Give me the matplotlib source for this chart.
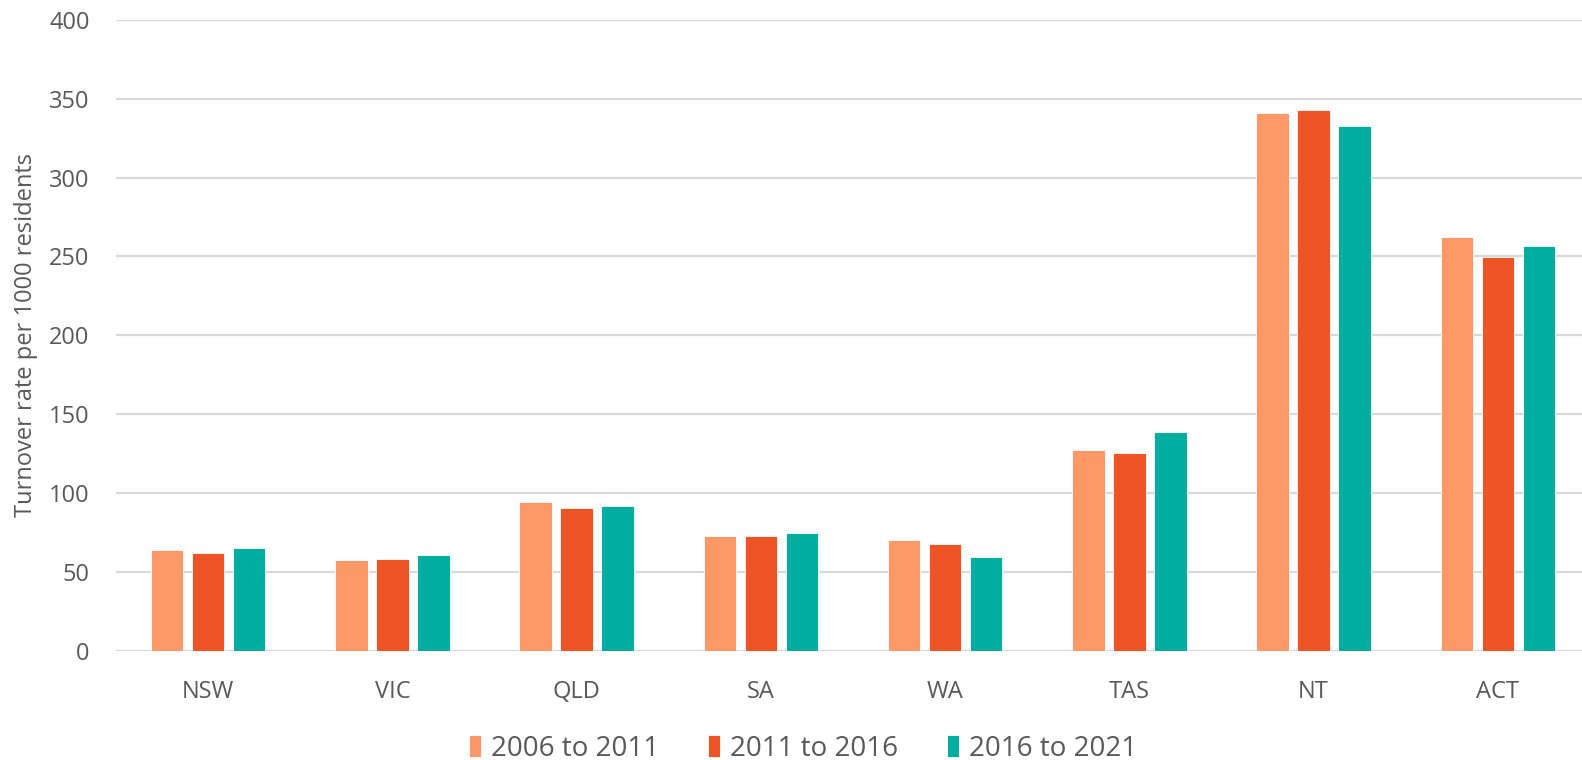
import numpy as np
import matplotlib.pyplot as plt

# turnover rate per 1000 residents, by state and census period
states = ['NSW', 'VIC', 'QLD', 'SA', 'WA', 'TAS', 'NT', 'ACT']
periods = ['2006 to 2011', '2011 to 2016', '2016 to 2021']
rate_2006_2011 = [63.8, 57.2, 94.2, 72.8, 70.0, 127.2, 340.9, 262.3]
rate_2011_2016 = [61.7, 57.9, 90.6, 72.6, 67.4, 125.1, 342.8, 249.4]
rate_2016_2021 = [65.1, 60.4, 91.5, 74.5, 59.6, 138.5, 333.0, 256.6]
colors = ['#FE9866', '#EF5427', '#00AD9E']

text_col = '#595959'
plt.rcParams['font.family'] = ['Open Sans', 'DejaVu Sans']

W, H = 1582, 760
fig = plt.figure(figsize=(W / 100, H / 100), dpi=100)
# the plot area runs a little past the right edge of the figure
left, right, top, bottom = 116, 1590, 20, 650.5
ax = fig.add_axes([left / W, 1 - bottom / H, (right - left) / W, (bottom - top) / H])

x = np.arange(len(states))
series = [rate_2006_2011, rate_2011_2016, rate_2016_2021]
for i, (vals, col, lab) in enumerate(zip(series, colors, periods)):
    ax.bar(x + (i - 1) * 0.223, vals, width=0.176, color=col, label=lab,
           edgecolor='white', linewidth=0.6, zorder=3)

ax.set_xlim(-0.5, len(states) - 0.5)
ax.set_ylim(0, 400)
ax.set_yticks(range(0, 401, 50))
ax.grid(axis='y', color='#D9D9D9', linewidth=1.6, zorder=0)
ax.set_axisbelow(True)
for s in ax.spines.values():
    s.set_visible(False)

ax.set_xticks(x)
ax.set_xticklabels(states)
ax.tick_params(axis='both', length=0, labelsize=17, colors=text_col)
ax.tick_params(axis='x', pad=21)
ax.tick_params(axis='y', pad=19)

ax.set_ylabel('Turnover rate per 1000 residents', fontsize=17, color=text_col)
ax.yaxis.set_label_coords(-0.053, 0.5)

leg = ax.legend(loc='center', bbox_to_anchor=(0.466, -0.156), ncol=3, frameon=False,
                prop={'size': 20}, handlelength=0.45, handleheight=0.85,
                handletextpad=0.35, columnspacing=1.75, borderaxespad=0)
for t in leg.get_texts():
    t.set_color(text_col)

fig.savefig('out.png', dpi=100)
